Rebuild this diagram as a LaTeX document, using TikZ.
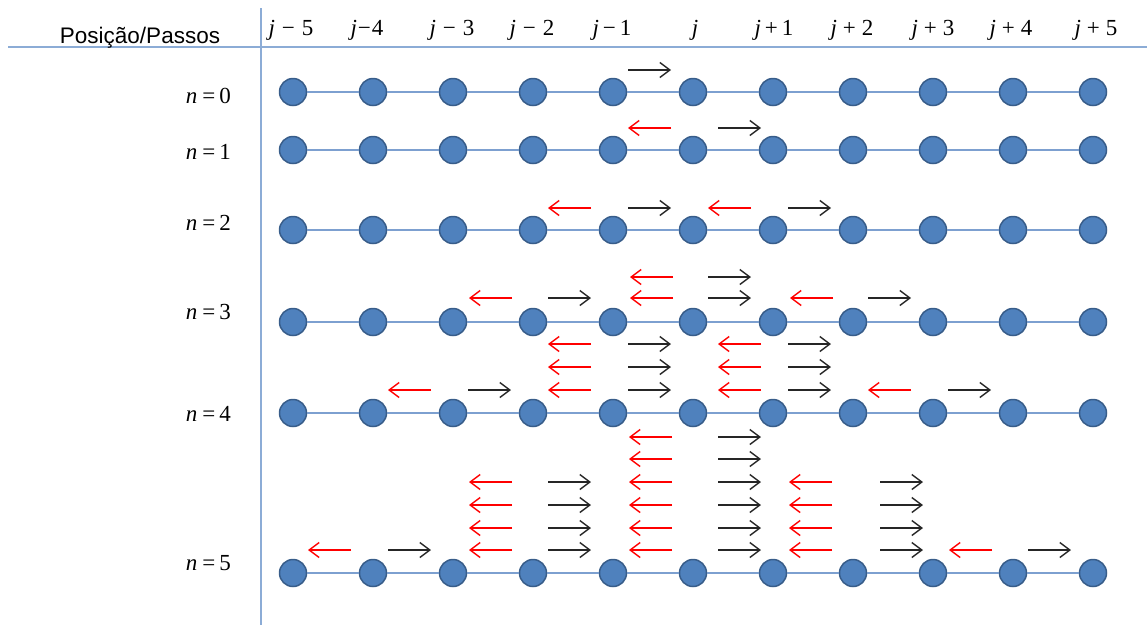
\documentclass[tikz,border=0pt]{standalone}
\usepackage{fontspec}
\setmainfont{Liberation Serif}
\newfontfamily\arialfont{Liberation Sans}
\usetikzlibrary{arrows.meta}

\definecolor{siteblue}{RGB}{79,129,189}
\definecolor{siteedge}{RGB}{56,93,138}
\definecolor{linkblue}{RGB}{125,160,208}
\definecolor{axisblue}{RGB}{140,172,214}

\begin{document}
\begin{tikzpicture}[x=1pt, y=-1pt, node distance=80pt,
  site/.style={circle, draw=siteedge, fill=siteblue, line width=1.5pt, minimum size=27pt, inner sep=0pt},
  link/.style={linkblue, line width=2pt},
  axis/.style={axisblue, line width=1.6pt},
  fwd/.style={-{Straight Barb[length=10pt, width=15pt]}, line width=1.4pt, black!85},
  bwd/.style={-{Straight Barb[length=10pt, width=15pt]}, line width=1.4pt, red},
  head/.style={font=\fontsize{23}{27}\selectfont, anchor=base, inner sep=0pt},
  step label/.style={font=\fontsize{23}{27}\selectfont, anchor=base east, inner sep=0pt}]

\useasboundingbox (0,0) rectangle (1147,625);

% axes
\draw[axis] (8,47) -- (1147,47);
\draw[axis] (261,8) -- (261,625);

\node[font=\arialfont\fontsize{22.5}{27}\selectfont, anchor=base, inner sep=0pt] (title) at (140,43) {Posição/Passos};

% positions
\node[head] (p1) at (291,35) {\textit{j}\hspace{7pt}−\hspace{7pt}5};
\node[head] (p2) at (367,35) {\textit{j}\hspace{1pt}−\hspace{1pt}4};
\node[head] (p3) at (452,35) {\textit{j}\hspace{7pt}−\hspace{7pt}3};
\node[head] (p4) at (532,35) {\textit{j}\hspace{7pt}−\hspace{7pt}2};
\node[head] (p5) at (612,35) {\textit{j}\hspace{4pt}−\hspace{4pt}1};
\node[head] (p6) at (695,35) {\textit{j}};
\node[head] (p7) at (774,35) {\textit{j}\hspace{4pt}+\hspace{4pt}1};
\node[head] (p8) at (852,35) {\textit{j}\hspace{6pt}+\hspace{6pt}2};
\node[head] (p9) at (933,35) {\textit{j}\hspace{6pt}+\hspace{6pt}3};
\node[head] (p10) at (1011,35) {\textit{j}\hspace{6pt}+\hspace{6pt}4};
\node[head] (p11) at (1096,35) {\textit{j}\hspace{6pt}+\hspace{6pt}5};

% steps
\foreach \r/\y/\b in {0/92/103, 1/150/159, 2/230/230, 3/322/319, 4/413/421, 5/573/570} {
  \node[step label] (n\r) at (231,\b) {\textit{n}\hspace{5pt}=\hspace{4pt}\r};
  \node[site] (s\r-1) at (293,\y) {};
  \foreach \c [count=\p] in {2,...,11} {
    \node[site, right of=s\r-\p] (s\r-\c) {};
    \draw[link] (s\r-\p) -- (s\r-\c);
  }
}

% n = 0, 1, 2
\draw[fwd] (628,70) -- (671,70);
\draw[bwd] (671,128) -- (628,128);
\draw[fwd] (718,128) -- (761,128);
\foreach \a in {548,708} \draw[bwd] (\a+43,208) -- (\a,208);
\foreach \a in {628,788} \draw[fwd] (\a,208) -- (\a+43,208);

% n = 3
\draw[bwd] (673,277) -- (630,277);
\draw[fwd] (708,277) -- (751,277);
\foreach \a in {469,630,790} \draw[bwd] (\a+43,298) -- (\a,298);
\foreach \a in {548,708,868} \draw[fwd] (\a,298) -- (\a+43,298);

% n = 4
\foreach \y in {344,367,390} {
  \foreach \a in {548,718} \draw[bwd] (\a+43,\y) -- (\a,\y);
  \foreach \a in {628,788} \draw[fwd] (\a,\y) -- (\a+43,\y);
}
\foreach \a in {388,868} \draw[bwd] (\a+43,390) -- (\a,390);
\foreach \a in {468,948} \draw[fwd] (\a,390) -- (\a+43,390);

% n = 5
\foreach \y in {437,459} {
  \draw[bwd] (672,\y) -- (629,\y);
  \draw[fwd] (718,\y) -- (761,\y);
}
\foreach \y in {482,505,528,550} {
  \foreach \a in {469,629,789} \draw[bwd] (\a+43,\y) -- (\a,\y);
  \foreach \a in {548,718,880} \draw[fwd] (\a,\y) -- (\a+43,\y);
}
\foreach \a in {308,949} \draw[bwd] (\a+43,550) -- (\a,550);
\foreach \a in {388,1028} \draw[fwd] (\a,550) -- (\a+43,550);

\end{tikzpicture}
\end{document}
